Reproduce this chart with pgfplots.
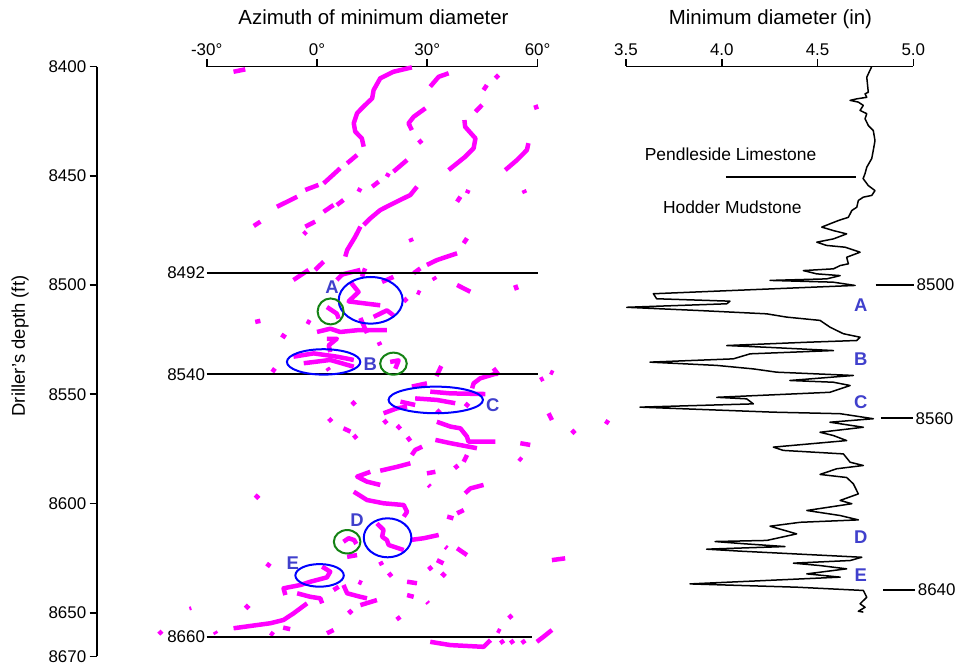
\documentclass[border=0pt]{standalone}
\usepackage{pgfplots}
\pgfplotsset{compat=1.18}
\usepackage{fontspec}
\setmainfont{Liberation Sans}
\definecolor{lblue}{RGB}{64,64,204}
\definecolor{dgreen}{RGB}{20,130,20}
\definecolor{mag}{RGB}{255,0,255}
\definecolor{pblue}{RGB}{0,0,255}
\newcommand{\Sg}[1]{\addplot[mg] coordinates {#1};}
\begin{document}
\begin{tikzpicture}
\path[use as bounding box] (0,0) rectangle (959bp,667bp);
\pgfplotsset{
  every non boxed x axis/.style={},
  every non boxed y axis/.style={},
  every axis/.append style={font=\fontsize{17}{20}\selectfont, scale only axis, y dir=reverse,
    ymin=8400, ymax=8670, height=589.95bp, clip=false, anchor=north west,
    axis line style={-, line width=1.6bp}, x axis line style={-}, y axis line style={-},
    every tick/.append style={black, line width=1.6bp}, major tick length=7bp, tick align=outside},
  mg/.style={color=mag, line width=4.5bp, line cap=butt, line join=round, mark=none},
}
% depth axis
\begin{axis}[at={(96.7bp,600.5bp)}, width=20bp, xmin=0, xmax=1,
  axis x line=none, axis y line=left, y axis line style={-}, tick align=outside,
  ytick={8400,8450,8500,8550,8600,8650,8670},
  yticklabel style={/pgf/number format/1000 sep={}, /pgf/number format/assume math mode=true}]
\end{axis}
% azimuth panel
\begin{axis}[at={(206.7bp,600.5bp)}, width=330.9bp, xmin=-30, xmax=60,
  axis x line=top, axis y line=none, x axis line style={-}, tick align=outside,
  xtick={-30,0,30,60}, xticklabels={-30°,0°,30°,60°}]
\Sg{(-22.7,8402.4) (-19.5,8401.3)}
\Sg{(25.8,8400.4) (20.8,8402.4) (17.2,8405.4) (15.4,8410.8) (15.0,8414.6) (13.6,8416.8) (12.2,8419.1) (10.9,8421.4) (10.0,8426.0) (10.4,8429.8) (12.2,8432.9) (12.7,8436.7)}
\Sg{(10.9,8440.5) (8.2,8444.3)}
\Sg{(6.3,8446.6) (1.8,8453.5)}
\Sg{(0.4,8454.2) (-3.2,8456.5)}
\Sg{(-5.4,8459.6) (-10.9,8464.2)}
\Sg{(-15.4,8471.0) (-17.2,8473.0)}
\Sg{(35.8,8403.1) (33.1,8404.7) (30.8,8409.2)}
\Sg{(29.5,8419.1) (26.3,8423.0) (24.9,8426.0) (25.8,8429.1)}
\Sg{(27.7,8433.6) (28.5,8435.2)}
\Sg{(24.5,8442.8) (20.8,8448.1)}
\Sg{(19.5,8448.9) (19.0,8450.4)}
\Sg{(16.8,8452.7) (15.0,8455.0)}
\Sg{(11.8,8455.7) (11.3,8457.3)}
\Sg{(7.2,8461.1) (5.4,8463.4)}
\Sg{(4.5,8463.4) (1.8,8466.5)}
\Sg{(-0.5,8471.0) (-3.2,8473.3)}
\Sg{(-2.9,8475.6) (-3.6,8476.8)}
\Sg{(27.2,8455.0) (25.4,8458.8) (20.8,8462.6) (17.2,8465.7) (14.5,8469.5) (12.7,8472.5)}
\Sg{(11.8,8473.3) (10.4,8477.9) (8.2,8484.0) (7.7,8487.0)}
\Sg{(1.8,8489.3) (-0.5,8493.1)}
\Sg{(-2.3,8493.1) (-6.4,8497.7)}
\Sg{(49.4,8403.9) (48.5,8405.4)}
\Sg{(46.2,8408.5) (45.3,8410.8)}
\Sg{(44.9,8417.6) (43.1,8420.7)}
\Sg{(40.1,8424.5) (40.3,8427.6) (43.1,8432.9) (42.6,8437.4) (40.3,8441.3) (38.1,8444.3) (35.8,8447.4)}
\Sg{(59.4,8417.6) (59.8,8419.6)}
\Sg{(57.5,8435.1) (57.1,8438.2) (54.4,8442.8) (51.2,8447.4)}
\Sg{(56.2,8456.5) (56.6,8458.0)}
\Sg{(41.2,8456.5) (40.8,8458.0)}
\Sg{(39.0,8459.6) (38.1,8461.9)}
\Sg{(25.4,8478.6) (25.8,8480.2)}
\Sg{(40.8,8478.6) (39.9,8480.9)}
\Sg{(38.1,8485.5) (32.6,8488.6) (29.9,8490.8)}
\Sg{(28.1,8492.4) (26.3,8494.6)}
\Sg{(13.1,8492.4) (12.2,8496.2)}
\Sg{(11.8,8493.1) (6.3,8495.4)}
\Sg{(7.2,8494.6) (5.4,8497.7)}
\Sg{(31.7,8496.3) (32.2,8497.7)}
\Sg{(38.1,8500.0) (41.7,8503.1)}
\Sg{(53.9,8500.0) (54.4,8502.3)}
\Sg{(27.2,8503.1) (28.1,8503.8)}
\Sg{(24.5,8506.1) (23.6,8507.6)}
\Sg{(9.1,8498.6) (11.3,8503.2) (8.6,8507.5) (17.2,8509.3)}
\Sg{(15.4,8514.6) (19.0,8511.6) (20.8,8513.9)}
\Sg{(17.7,8498.6) (20.8,8496.3)}
\Sg{(2.7,8510.1) (5.4,8513.1) (5.9,8515.4)}
\Sg{(-16.8,8516.9) (-15.4,8516.4)}
\Sg{(-2.8,8516.5) (-1.8,8517.4)}
\Sg{(-9.7,8522.7) (-8.5,8524.0)}
\Sg{(0.0,8521.5) (3.6,8520.0) (6.3,8521.5) (10.9,8520.7) (19.0,8520.7)}
\Sg{(11.8,8515.1) (13.6,8522.0)}
\Sg{(2.7,8524.6) (5.4,8524.6) (3.2,8527.6) (3.6,8530.7)}
\Sg{(16.8,8526.1) (17.2,8527.6)}
\Sg{(-6.4,8532.8) (-0.9,8531.3) (5.4,8532.8) (10.0,8534.3)}
\Sg{(-3.6,8535.8) (3.6,8534.3) (10.0,8537.4)}
\Sg{(2.8,8537.9) (3.3,8539.1)}
\Sg{(-12.3,8538.4) (-11.3,8539.6)}
\Sg{(19.9,8535.2) (22.2,8534.5) (21.3,8538.3)}
\Sg{(33.8,8537.1) (32.5,8541.7)}
\Sg{(48.0,8538.1) (49.4,8541.2)}
\Sg{(63.4,8539.7) (64.3,8540.4)}
\Sg{(49.0,8540.4) (44.4,8542.7) (42.6,8545.0) (42.2,8547.3)}
\Sg{(60.7,8543.5) (61.6,8542.7)}
\Sg{(25.8,8546.5) (29.9,8545.0)}
\Sg{(26.7,8551.9) (32.6,8552.6) (37.6,8554.1)}
\Sg{(30.8,8548.8) (36.3,8549.6) (45.8,8549.9)}
\Sg{(22.7,8553.4) (26.7,8554.9)}
\Sg{(18.1,8558.7) (21.8,8556.4) (24.5,8555.7)}
\Sg{(40.3,8554.2) (41.3,8555.6)}
\Sg{(32.6,8557.2) (33.5,8558.6)}
\Sg{(9.5,8553.3) (10.4,8554.9)}
\Sg{(3.2,8561.1) (4.0,8562.5)}
\Sg{(7.2,8565.6) (9.1,8567.1)}
\Sg{(10.0,8568.7) (10.8,8570.3)}
\Sg{(18.2,8561.8) (19.0,8563.4)}
\Sg{(21.8,8564.3) (22.7,8565.9)}
\Sg{(24.6,8569.6) (25.4,8571.4)}
\Sg{(32.6,8562.6) (36.3,8564.8) (39.0,8565.6) (40.8,8569.4) (41.2,8571.7) (48.5,8571.7)}
\Sg{(32.2,8570.9) (36.3,8572.4) (43.5,8574.7)}
\Sg{(63.0,8558.7) (63.9,8561.8)}
\Sg{(69.3,8566.4) (70.2,8568.0)}
\Sg{(55.3,8572.4) (58.0,8573.2)}
\Sg{(54.9,8579.2) (55.7,8580.3)}
\Sg{(28.6,8574.0) (26.7,8575.5) (25.8,8577.8)}
\Sg{(40.8,8577.8) (39.9,8580.9)}
\Sg{(37.5,8582.4) (38.3,8584.0)}
\Sg{(25.4,8581.6) (21.8,8583.2) (17.2,8585.0)}
\Sg{(14.5,8585.5) (10.9,8587.7) (13.6,8590.0) (17.2,8591.5)}
\Sg{(29.9,8586.2) (32.2,8585.5)}
\Sg{(30.3,8591.5) (30.8,8592.3)}
\Sg{(40.3,8595.3) (41.7,8593.1) (45.3,8591.5)}
\Sg{(-16.8,8596.1) (-15.8,8597.7)}
\Sg{(10.0,8594.6) (13.6,8598.4) (18.1,8599.9) (23.6,8600.7) (24.5,8603.8) (23.6,8606.0)}
\Sg{(35.4,8606.0) (37.1,8606.8)}
\Sg{(38.1,8604.5) (39.9,8603.0)}
\Sg{(16.3,8609.1) (18.1,8612.1) (17.7,8615.2) (19.0,8616.7) (19.5,8619.0) (23.6,8621.3)}
\Sg{(25.4,8616.7) (29.0,8615.9) (33.1,8614.4)}
\Sg{(7.2,8617.5) (8.6,8615.9) (10.1,8616.7) (10.7,8618.5)}
\Sg{(8.2,8624.4) (10.9,8623.6)}
\Sg{(17.2,8626.6) (17.7,8628.2)}
\Sg{(34.9,8619.8) (35.4,8620.5)}
\Sg{(38.1,8620.5) (40.8,8623.6)}
\Sg{(32.6,8625.9) (34.4,8627.4)}
\Sg{(30.4,8628.8) (31.2,8630.4)}
\Sg{(33.9,8631.8) (34.9,8633.4)}
\Sg{(19.5,8631.8) (20.3,8633.4)}
\Sg{(24.5,8635.8) (27.2,8636.5)}
\Sg{(24.5,8641.9) (26.3,8642.7)}
\Sg{(29.9,8645.0) (30.3,8645.7)}
\Sg{(21.8,8651.7) (22.5,8653.3)}
\Sg{(63.9,8625.9) (67.5,8625.1)}
\Sg{(-13.7,8627.5) (-12.7,8628.8)}
\Sg{(1.4,8628.9) (3.6,8631.2) (2.7,8633.8) (-1.8,8635.8) (-4.5,8637.3) (-9.1,8638.8) (-8.6,8641.9)}
\Sg{(-5.4,8641.1) (-1.8,8642.7) (0.9,8643.4) (1.4,8645.7)}
\Sg{(4.5,8639.6) (5.9,8638.1)}
\Sg{(7.2,8637.3) (8.2,8641.1) (11.8,8642.7) (13.6,8643.4)}
\Sg{(11.8,8646.5) (16.3,8644.2)}
\Sg{(11.3,8635.8) (12.2,8636.5)}
\Sg{(8.6,8648.8) (9.5,8650.4)}
\Sg{(-2.7,8645.7) (-6.4,8650.3) (-9.1,8653.3) (-12.7,8654.8) (-22.7,8657.1)}
\Sg{(-19.5,8646.5) (-18.5,8648.1)}
\addplot[color=mag, line width=2bp] coordinates {(-34.6,8647.2) (-34.3,8648.8)};
\Sg{(-9.2,8656.8) (-7.3,8657.5)}
\Sg{(4.5,8657.9) (2.7,8659.4)}
\Sg{(-12.7,8659.1) (-11.8,8660.2)}
\Sg{(-27.8,8658.6) (-27.4,8659.7)}
\Sg{(-43.0,8658.4) (-42.2,8659.8)}
\Sg{(30.8,8663.3) (36.3,8664.8) (45.3,8665.6) (47.2,8662.5)}
\Sg{(49.0,8657.9) (49.9,8658.7)}
\Sg{(50.0,8662.5) (50.7,8664.1)}
\Sg{(52.7,8662.5) (53.4,8664.1)}
\Sg{(55.8,8662.5) (56.5,8664.1)}
\Sg{(59.8,8663.3) (61.6,8661.0) (63.9,8657.9)}
\Sg{(52.2,8651.0) (53.0,8652.6)}
\Sg{(78.4,8562.2) (79.4,8563.3)}
% horizontal reference lines
\addplot[black, line width=2.2bp] coordinates {(-30,8494.4) (60,8494.4)};
\addplot[black, line width=2.2bp] coordinates {(-30,8540.9) (60,8540.9)};
\addplot[black, line width=2.2bp] coordinates {(-30,8661.0) (58.5,8661.0)};
\node[anchor=east, inner sep=1.5bp] at (axis cs:-30,8494.4) {8492};
\node[anchor=east, inner sep=1.5bp] at (axis cs:-30,8540.9) {8540};
\node[anchor=east, inner sep=1.5bp] at (axis cs:-30,8661.0) {8660};
% ellipses
\draw[pblue, line width=2bp] (axis cs:14.6,8507.0) ellipse [x radius=32bp, y radius=23.3bp];
\draw[pblue, line width=2bp] (axis cs:1.8,8535.2) ellipse [x radius=36.7bp, y radius=12.7bp];
\draw[pblue, line width=2bp] (axis cs:32.3,8552.6) ellipse [x radius=47.2bp, y radius=13.3bp];
\draw[pblue, line width=2bp] (axis cs:19.2,8615.7) ellipse [x radius=23.8bp, y radius=19.5bp];
\draw[pblue, line width=2bp] (axis cs:0.7,8632.9) ellipse [x radius=24.2bp, y radius=11.3bp];
\draw[dgreen, line width=2bp] (axis cs:3.7,8512.1) ellipse [x radius=13bp, y radius=13bp];
\draw[dgreen, line width=2bp] (axis cs:20.8,8536.0) ellipse [x radius=13.3bp, y radius=11bp];
\draw[dgreen, line width=2bp] (axis cs:8.2,8617.5) ellipse [x radius=13.3bp, y radius=11.7bp];
\node[lblue, font=\fontsize{18.5}{20}\selectfont\bfseries] at (axis cs:4.1,8500.9) {A};
\node[lblue, font=\fontsize{18.5}{20}\selectfont\bfseries] at (axis cs:14.5,8536.0) {B};
\node[lblue, font=\fontsize{18.5}{20}\selectfont\bfseries] at (axis cs:47.8,8554.9) {C};
\node[lblue, font=\fontsize{18.5}{20}\selectfont\bfseries] at (axis cs:10.9,8607.6) {D};
\node[lblue, font=\fontsize{18.5}{20}\selectfont\bfseries] at (axis cs:-6.6,8627.1) {E};
\end{axis}
% minimum diameter panel
\begin{axis}[at={(626bp,600.5bp)}, width=287.3bp, xmin=3.5, xmax=5.0,
  axis x line=top, axis y line=none, x axis line style={-}, tick align=outside,
  xtick={3.5,4,4.5,5}, xticklabels={3.5,4.0,4.5,5.0}]
\addplot[black, line width=1.5bp, line join=round, mark=none] coordinates {
(4.783,8400.0) (4.757,8404.9) (4.765,8411.8) (4.748,8412.5) (4.757,8414.1) (4.705,8414.8) (4.670,8415.5) (4.713,8416.3) (4.739,8417.8) (4.722,8420.1) (4.757,8421.6) (4.748,8423.9) (4.765,8427.0) (4.791,8429.3) (4.800,8433.9) (4.791,8438.4) (4.783,8442.1) (4.757,8446.1) (4.748,8449.0) (4.738,8451.3) (4.765,8454.5) (4.800,8456.8) (4.783,8459.0) (4.739,8459.8) (4.713,8461.3) (4.705,8464.4) (4.679,8465.9) (4.661,8469.0) (4.609,8470.5) (4.565,8472.0) (4.522,8473.5) (4.583,8475.1) (4.652,8476.6) (4.583,8478.9) (4.496,8480.4) (4.548,8481.9) (4.644,8482.7) (4.722,8485.0) (4.652,8487.3) (4.661,8490.3) (4.618,8491.1) (4.583,8492.6) (4.426,8493.4) (4.496,8494.9) (4.618,8495.7) (4.548,8497.2) (4.252,8497.9) (4.581,8498.7) (4.696,8500.2) (3.643,8504.0) (3.660,8506.3) (4.043,8507.4) (4.026,8508.6) (3.504,8510.2) (3.886,8511.7) (4.235,8513.2) (4.339,8514.7) (4.409,8515.3) (4.513,8516.2) (4.565,8519.3) (4.600,8520.8) (4.635,8522.3) (4.722,8523.9) (4.705,8525.4) (4.444,8526.2) (4.026,8527.7) (4.235,8528.5) (4.583,8530.0) (4.148,8531.5) (4.060,8533.8) (3.625,8535.3) (3.974,8536.8) (4.165,8538.4) (4.287,8539.9) (4.687,8541.4) (4.356,8543.7) (4.583,8544.5) (4.670,8546.0) (4.565,8549.1) (3.974,8551.4) (4.130,8552.1) (4.165,8554.4) (3.573,8555.9) (4.269,8558.2) (4.618,8558.9) (4.791,8561.2) (4.565,8562.8) (4.739,8565.1) (4.513,8567.4) (4.583,8568.9) (4.652,8571.2) (4.269,8574.2) (4.321,8575.7) (4.635,8577.3) (4.670,8581.1) (4.739,8582.6) (4.600,8584.1) (4.513,8586.7) (4.652,8588.1) (4.687,8591.0) (4.713,8595.6) (4.618,8598.6) (4.679,8600.1) (4.444,8603.2) (4.618,8605.5) (4.713,8607.5) (4.409,8608.6) (4.252,8610.4) (4.391,8613.9) (4.235,8616.9) (3.965,8617.4) (4.113,8618.4) (4.330,8619.7) (3.921,8620.9) (4.095,8621.8) (4.731,8624.6) (4.670,8626.1) (4.374,8627.3) (4.513,8628.4) (4.652,8629.9) (4.444,8632.2) (4.618,8633.7) (3.834,8636.8) (4.391,8638.3) (4.739,8639.8) (4.757,8642.9) (4.722,8645.9) (4.748,8647.5) (4.713,8649.3) (4.739,8649.7)};
\addplot[black, line width=1.6bp] coordinates {(4.022,8450.7) (4.700,8450.7)};
\node[font=\fontsize{17.5}{20}\selectfont] at (axis cs:4.046,8440.0) {Pendleside Limestone};
\node[font=\fontsize{17.5}{20}\selectfont] at (axis cs:4.055,8464.2) {Hodder Mudstone};
\draw[line width=1.6bp] (axis cs:4.803,8500) -- (axis cs:5.003,8500) node[right, inner sep=2bp] {8500};
\draw[line width=1.6bp] (axis cs:4.831,8561) -- (axis cs:4.998,8561) node[right, inner sep=2bp] {8560};
\draw[line width=1.6bp] (axis cs:4.842,8639.6) -- (axis cs:5.009,8639.6) node[right, inner sep=2bp] {8640};
\node[lblue, font=\fontsize{18.5}{20}\selectfont\bfseries] at (axis cs:4.726,8509.2) {A};
\node[lblue, font=\fontsize{18.5}{20}\selectfont\bfseries] at (axis cs:4.726,8534.0) {B};
\node[lblue, font=\fontsize{18.5}{20}\selectfont\bfseries] at (axis cs:4.726,8553.4) {C};
\node[lblue, font=\fontsize{18.5}{20}\selectfont\bfseries] at (axis cs:4.726,8615.2) {D};
\node[lblue, font=\fontsize{18.5}{20}\selectfont\bfseries] at (axis cs:4.726,8632.7) {E};
\end{axis}
\node[anchor=base, font=\fontsize{20.5}{24}\selectfont] at (373.5bp,642bp) {Azimuth of minimum diameter};
\node[anchor=base, font=\fontsize{20.5}{24}\selectfont] at (770.5bp,642bp) {Minimum diameter (in)};
\node[rotate=90, font=\fontsize{18.5}{22}\selectfont] at (20bp,321bp) {Driller's depth (ft)};
\end{tikzpicture}
\end{document}
